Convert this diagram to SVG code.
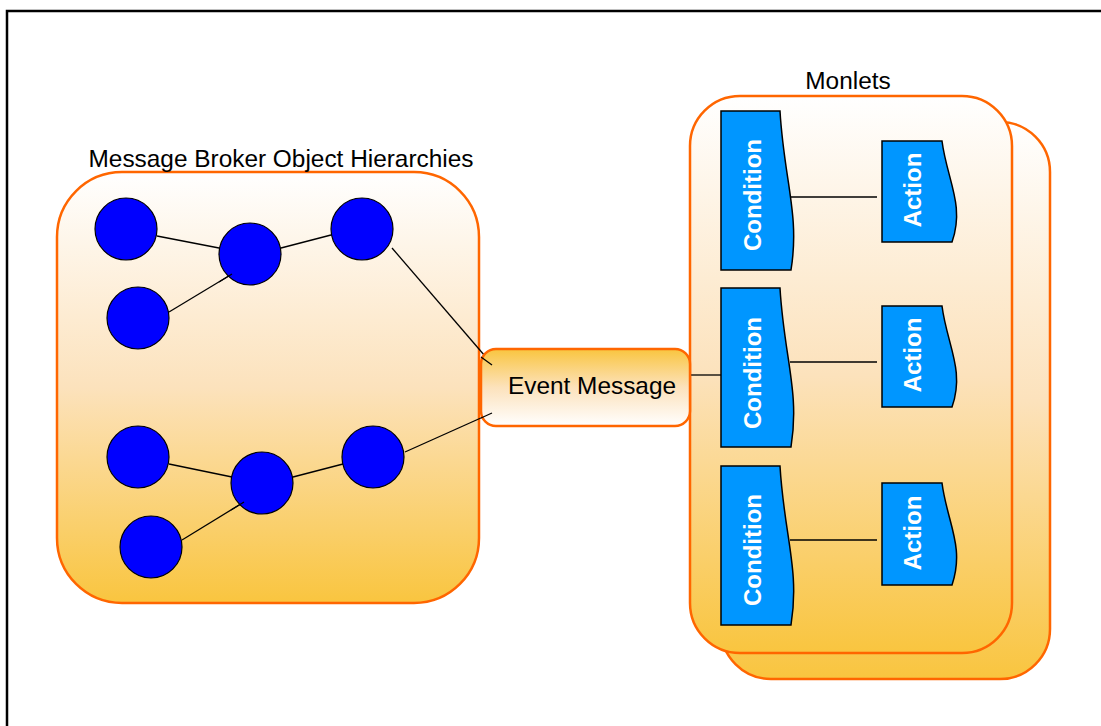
<svg xmlns="http://www.w3.org/2000/svg" width="1101" height="726" viewBox="0 0 1101 726">
  <defs>
    <linearGradient id="gDown" x1="0" y1="0" x2="0" y2="1">
      <stop offset="0" stop-color="#FFFFFF"/>
      <stop offset="0.5" stop-color="#FCE2BC"/>
      <stop offset="1" stop-color="#F9C53F"/>
    </linearGradient>
    <linearGradient id="gUp" x1="0" y1="0" x2="0" y2="1">
      <stop offset="0" stop-color="#F9C53F"/>
      <stop offset="0.5" stop-color="#FCE2BC"/>
      <stop offset="1" stop-color="#FFFFFF"/>
    </linearGradient>
    <style>
      .box { stroke: #FF6600; stroke-width: 2.5; }
      .obj { fill: #0000FF; stroke: #000000; stroke-width: 1.2; }
      .blk { fill: #0096FF; stroke: #000000; stroke-width: 1.5; }
      .ln { stroke: #000000; stroke-width: 1.3; fill: none; }
      .lbl { font-family: "Liberation Sans", Arial, sans-serif; font-size: 24.4px; fill: #000000; }
      .wt { font-family: "Liberation Sans", Arial, sans-serif; font-size: 24px; font-weight: bold; fill: #FFFFFF; }
    </style>
  </defs>

  <rect id="frame" x="7" y="11" width="1200" height="800" fill="#FFFFFF" stroke="#000000" stroke-width="2.5"/>

  <g id="broker">
    <rect class="box" x="57" y="172" width="422" height="431" rx="65" ry="65" fill="url(#gDown)"/>
    <text class="lbl" x="281" y="167" text-anchor="middle">Message Broker Object Hierarchies</text>
  </g>

  <g id="monlets">
    <rect class="box" x="721" y="122" width="329" height="557" rx="50" ry="50" fill="url(#gDown)"/>
    <rect class="box" x="690" y="96" width="322" height="557" rx="50" ry="50" fill="url(#gDown)"/>
    <text class="lbl" x="848" y="89" text-anchor="middle">Monlets</text>
  </g>

  <g id="connectors">
    <line class="ln" x1="157" y1="236" x2="219" y2="248"/>
    <line class="ln" x1="331" y1="235" x2="281" y2="248"/>
    <line class="ln" x1="169" y1="312" x2="232" y2="274"/>
    <line class="ln" x1="392" y1="248" x2="491" y2="363"/>
    <line class="ln" x1="169" y1="464" x2="232" y2="477"/>
    <line class="ln" x1="343" y1="464" x2="293" y2="477"/>
    <line class="ln" x1="182" y1="540" x2="244" y2="502"/>
    <line class="ln" x1="405" y1="452" x2="492" y2="413"/>
    <line class="ln" x1="690" y1="375" x2="721" y2="375"/>
    <line class="ln" x1="789" y1="197" x2="877" y2="197"/>
    <line class="ln" x1="790" y1="362" x2="877" y2="362"/>
    <line class="ln" x1="790" y1="540" x2="877" y2="540"/>
  </g>

  <g id="objects-top">
    <circle class="obj" cx="126" cy="229" r="31"/>
    <circle class="obj" cx="250" cy="254" r="31"/>
    <circle class="obj" cx="362" cy="229" r="31"/>
    <circle class="obj" cx="138" cy="318" r="31"/>
    <line class="ln" x1="232" y1="274" x2="219" y2="282"/>
  </g>

  <g id="objects-bottom">
    <circle class="obj" cx="138" cy="457" r="31"/>
    <circle class="obj" cx="262" cy="483" r="31"/>
    <circle class="obj" cx="373" cy="457" r="31"/>
    <circle class="obj" cx="151" cy="547" r="31"/>
    <line class="ln" x1="244" y1="502" x2="231" y2="510"/>
  </g>

  <g id="event-message">
    <rect class="box" x="481" y="349" width="209" height="77" rx="15" ry="15" fill="url(#gUp)"/>
    <text class="lbl" x="592" y="394" text-anchor="middle">Event Message</text>
    <line class="ln" x1="481" y1="357" x2="492" y2="365"/>
    <line class="ln" x1="481" y1="418" x2="492" y2="413"/>
  </g>

  <g id="condition-1">
    <path class="blk" d="M721,111 L780,111 C784,180 800,215 791,270 L721,270 Z"/>
    <text class="wt" transform="translate(761,195) rotate(-90)" text-anchor="middle">Condition</text>
  </g>
  <g id="condition-2">
    <path class="blk" d="M721,288 L780,288 C784,357 800,392 791,447 L721,447 Z"/>
    <text class="wt" transform="translate(761,373) rotate(-90)" text-anchor="middle">Condition</text>
  </g>
  <g id="condition-3">
    <path class="blk" d="M721,466 L780,466 C784,535 800,570 791,625 L721,625 Z"/>
    <text class="wt" transform="translate(761,550) rotate(-90)" text-anchor="middle">Condition</text>
  </g>

  <g id="action-1">
    <path class="blk" d="M882,141 L942,141 C947,180 965,205 952,242 L882,242 Z"/>
    <text class="wt" transform="translate(921,190) rotate(-90)" text-anchor="middle">Action</text>
  </g>
  <g id="action-2">
    <path class="blk" d="M882,306 L942,306 C947,345 965,370 952,407 L882,407 Z"/>
    <text class="wt" transform="translate(921,355) rotate(-90)" text-anchor="middle">Action</text>
  </g>
  <g id="action-3">
    <path class="blk" d="M882,483 L942,483 C947,522 965,547 952,585 L882,585 Z"/>
    <text class="wt" transform="translate(921,533) rotate(-90)" text-anchor="middle">Action</text>
  </g>
</svg>
